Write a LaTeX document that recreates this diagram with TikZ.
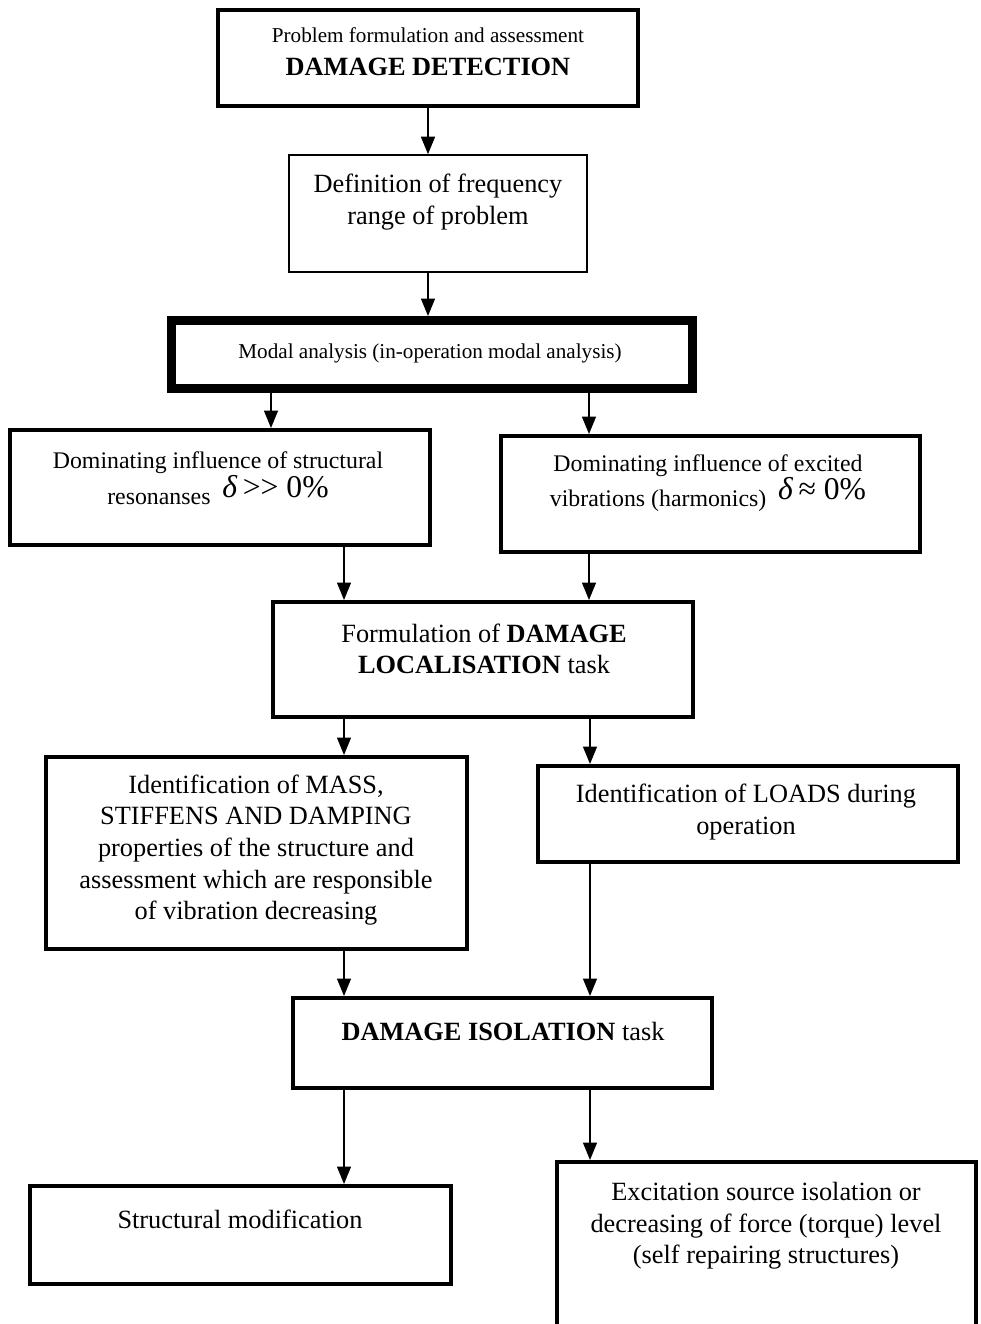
\documentclass[tikz,border=0pt]{standalone}
\usepackage{fontspec}
\setmainfont{Liberation Serif}
\usetikzlibrary{arrows.meta,fit}
\newcommand{\fsz}[2]{\fontsize{#1}{#2}\selectfont}
\newcommand{\deltaexpr}[1]{\raisebox{4pt}{\fsz{19}{19}\textit{δ}\,#1}}

\begin{document}
\begin{tikzpicture}[x=0.6pt,y=-0.6pt,
  box/.style={draw, line width=2.4pt, inner sep=0pt},
  thinbox/.style={draw, line width=1pt, inner sep=0pt},
  heavybox/.style={draw, line width=5.4pt, inner sep=0pt},
  txt/.style={inner sep=0pt, align=center, font=\fsz{15.8}{19}},
  arr/.style={line width=0.9pt, -{Triangle[width=8.4pt,length=10.5pt]}}]
\clip (0,0) rectangle (980,1324);
\useasboundingbox (0,0) rectangle (980,1324);

% boxes
\node[box, fit={(218,10) (638,106)}] (detect) {};
\node[thinbox, fit={(289,155) (587,272)}] (freq) {};
\node[heavybox, fit={(171.5,320.5) (692.5,388.5)}] (modal) {};
\node[box, fit={(10,430) (430,545)}] (reson) {};
\node[box, fit={(501,436) (920,552)}] (harm) {};
\node[box, fit={(273,602) (693,717)}] (local) {};
\node[box, fit={(46,757) (467,949)}] (mass) {};
\node[box, fit={(538,766) (958,862)}] (loads) {};
\node[box, fit={(293,998) (712,1088)}] (isol) {};
\node[box, fit={(30,1186) (451,1284)}] (modif) {};
\node[box, fit={(557,1162) (976,1340)}] (excit) {};

% texts
\node[txt] (tdetect) at (428,52) {{\fsz{12.7}{15}Problem formulation and assessment}\\[1pt]{\fsz{15.8}{17}\bfseries DAMAGE DETECTION}};
\node[txt] (tfreq) at (438,202) {Definition of frequency\\range of problem};
\node[txt, font=\fsz{12.7}{15}] (tmodal) at (430,353) {Modal analysis (in-operation modal analysis)};
\node[txt, font=\fsz{14.3}{18.5}] (treson) at (218,478) {Dominating influence of structural\\resonanses\enspace\deltaexpr{>{}> 0\%}};
\node[txt, font=\fsz{14.3}{18.5}] (tharm) at (708,483) {Dominating influence of excited\\vibrations (harmonics)\enspace\deltaexpr{≈ 0\%}};
\node[txt] (tlocal) at (484,649) {Formulation of \textbf{DAMAGE}\\\textbf{LOCALISATION} task};
\node[txt] (tmass) at (256,850) {Identification of MASS,\\STIFFENS AND DAMPING\\properties of the structure and\\assessment which are responsible\\of vibration decreasing};
\node[txt] (tloads) at (746,812) {Identification of LOADS during\\operation};
\node[txt] (tisol) at (503,1031) {\textbf{DAMAGE ISOLATION} task};
\node[txt] (tmodif) at (240,1219) {Structural modification};
\node[txt] (texcit) at (766,1226) {Excitation source isolation or\\decreasing of force (torque) level\\(self repairing structures)};

% connectors
\coordinate (xl) at (271,0);
\coordinate (xr) at (589,0);
\coordinate (xa) at (344,0);
\coordinate (xb) at (590,0);
\draw[arr] (detect.south) -- (detect.south |- freq.north);
\draw[arr] (detect.south |- freq.south) -- (detect.south |- modal.north);
\draw[arr] (modal.south -| xl) -- (reson.north -| xl);
\draw[arr] (modal.south -| xr) -- (harm.north -| xr);
\draw[arr] (reson.south -| xa) -- (local.north -| xa);
\draw[arr] (harm.south -| xr) -- (local.north -| xr);
\draw[arr] (local.south -| xa) -- (mass.north -| xa);
\draw[arr] (local.south -| xb) -- (loads.north -| xb);
\draw[arr] (mass.south -| xa) -- (isol.north -| xa);
\draw[arr] (loads.south -| xb) -- (isol.north -| xb);
\draw[arr] (isol.south -| xa) -- (modif.north -| xa);
\draw[arr] (isol.south -| xb) -- (excit.north -| xb);
\end{tikzpicture}
\end{document}
